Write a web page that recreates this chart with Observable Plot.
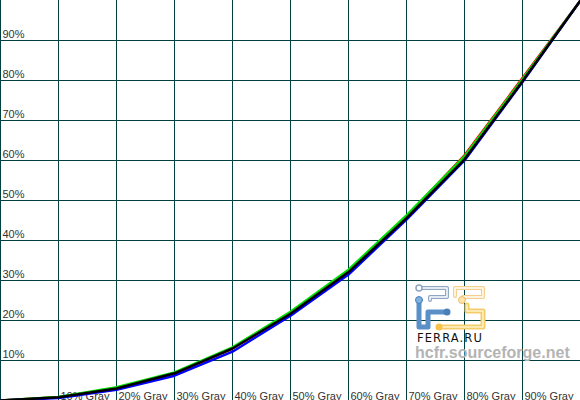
<!DOCTYPE html>
<html>
<head>
<meta charset="utf-8">
<script src="https://cdn.jsdelivr.net/npm/d3@7"></script>
<script src="https://cdn.jsdelivr.net/npm/@observablehq/plot@0.6"></script>
<style>
  html, body { margin: 0; padding: 0; background: #fff; }
  #wrap { position: relative; width: 580px; height: 400px; overflow: hidden; }
  #wm { position: absolute; left: 0; top: 0; pointer-events: none; }
</style>
</head>
<body>
<div id="wrap"></div>
<script>
// Gray levels (x) in %
const grayLevels = [0, 10, 20, 30, 40, 50, 60, 70, 80, 90, 100];
// Measured output (% of white) per channel
const redValues   = [0, 0.8, 3.1, 6.8, 13.0, 21.8, 32.4, 46.0, 61.3, 80.6, 100];
const greenValues = [0, 0.9, 3.3, 7.0, 13.3, 22.2, 32.7, 46.3, 61.0, 80.3, 100];
const blueValues  = [0, 0.6, 2.7, 6.2, 12.2, 21.2, 31.5, 45.2, 60.0, 79.6, 100];
const lumValues   = [0, 0.8, 3.0, 6.8, 13.0, 21.7, 32.1, 45.6, 60.3, 79.8, 100];

const gridX = [0, 10, 20, 30, 40, 50, 60, 70, 80, 90];
const gridY = [10, 20, 30, 40, 50, 60, 70, 80, 90];
const yTickLabels = ["10%", "20%", "30%", "40%", "50%", "60%", "70%", "80%", "90%"];
const xTicks = [10, 20, 30, 40, 50, 60, 70, 80, 90];
const xTickLabels = ["10% Gray", "20% Gray", "30% Gray", "40% Gray", "50% Gray", "60% Gray", "70% Gray", "80% Gray", "90% Gray"];

const series = [
  {name: "Red", color: "#ff0000", values: redValues},
  {name: "Green", color: "#00e000", values: greenValues},
  {name: "Blue", color: "#0000ff", values: blueValues},
  {name: "Y", color: "#000000", values: lumValues}
];
const rows = series.flatMap(s => grayLevels.map((g, i) => ({series: s.name, color: s.color, x: g, y: s.values[i]})));

const gridColor = "#004040";
const textColor = "#333333";

const chart = Plot.plot({
  width: 580,
  height: 400,
  margin: 0,
  x: {domain: [0, 100], axis: null},
  y: {domain: [0, 100], axis: null},
  style: {background: "#fff", fontFamily: "'Liberation Sans', Arial, sans-serif", fontSize: "11px", overflow: "visible"},
  marks: [
    Plot.ruleX(gridX, {x: d => d, stroke: gridColor, strokeWidth: 1}),
    Plot.ruleY(gridY, {y: d => d, stroke: gridColor, strokeWidth: 1}),
    Plot.text(gridY, {x: 0, y: d => d, text: (d, i) => yTickLabels[i], textAnchor: "start", lineAnchor: "bottom", dx: 2, dy: -3, fill: textColor, fontSize: 11}),
    Plot.text(xTicks, {x: d => d, frameAnchor: "bottom", text: (d, i) => xTickLabels[i], textAnchor: "start", lineAnchor: "bottom", dx: 2, dy: -1, fill: textColor, fontSize: 11}),
    ...series.map(s => Plot.line(rows.filter(r => r.series === s.name), {x: "x", y: "y", stroke: s.color, strokeWidth: 2.5, curve: "linear"}))
  ]
});
document.getElementById("wrap").appendChild(chart);

// watermark overlay
const wm = `
<svg id="wm" width="580" height="400" xmlns="http://www.w3.org/2000/svg">
  <g fill="none" stroke-linecap="round" stroke-linejoin="round">
    <path d="M419 288 H447 V297 H430 V300" stroke="#8fa6c4" stroke-width="4"/>
    <path d="M419 288 H447 V297 H430 V300" stroke="#fff" stroke-width="1.5"/>
    <circle cx="419" cy="288" r="3" fill="#fff" stroke="#8fa6c4" stroke-width="1.5"/>
    <path d="M419 301 V327 H428 V312 H446" stroke="#5b8fc7" stroke-width="5"/>
    <circle cx="419" cy="300" r="3.5" fill="#7fb0e0" stroke="#4a80b8" stroke-width="1"/>
    <circle cx="447" cy="312" r="3.5" fill="#4a80b8"/>
    <path d="M455 296 V288 H483 V297 H463" stroke="#f3cf8a" stroke-width="4"/>
    <path d="M455 296 V288 H483 V297 H463" stroke="#fff" stroke-width="1.5"/>
    <circle cx="462" cy="300" r="3.5" fill="#ffe3a8" stroke="#e8c070" stroke-width="1"/>
    <path d="M467 305 V311 H483 V327 H440" stroke="#f5cc6a" stroke-width="5"/>
    <path d="M467 305 V311 H483 V327 H440" stroke="#fff3cc" stroke-width="1.5"/>
    <circle cx="439" cy="327" r="3.5" fill="#f7c24a"/>
  </g>
  <text x="417" y="342" font-family="'DejaVu Sans', Verdana, sans-serif" font-size="11.5" letter-spacing="1.1" fill="#111">FERRA.RU</text>
  <text x="415" y="358" font-family="'Liberation Sans', Arial, sans-serif" font-weight="bold" font-size="16" fill="#b4b4b4">hcfr.sourceforge.net</text>
</svg>`;
document.getElementById("wrap").insertAdjacentHTML("beforeend", wm);
</script>
</body>
</html>
